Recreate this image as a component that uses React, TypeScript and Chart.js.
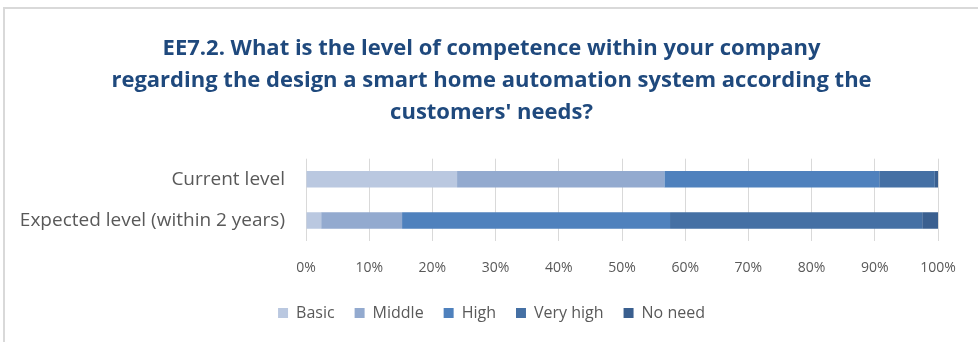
import React, { useEffect, useRef } from "react";
import { Chart, registerables } from "chart.js";

Chart.register(...registerables);

const categories = ["Current level", "Expected level (within 2 years)"];
const seriesNames = ["Basic", "Middle", "High", "Very high", "No need"];
const basic = [23.9, 2.4];
const middle = [32.8, 12.8];
const high = [34.0, 42.4];
const veryHigh = [8.8, 39.9];
const noNeed = [0.5, 2.5];
const colors = ["#BAC8E0", "#93AACF", "#4F81BD", "#4570A4", "#3A5F8F"];
const titleLines = [
  "EE7.2. What is the level of competence within your company",
  "regarding the design a smart home automation system according the",
  "customers' needs?",
];
const FONT = "'Open Sans', Lato, sans-serif";

export default function App() {
  const ref = useRef<HTMLCanvasElement>(null);
  useEffect(() => {
    document.body.style.margin = "0";
    const values = [basic, middle, high, veryHigh, noNeed];
    const chart = new Chart(ref.current!, {
      type: "bar",
      data: {
        labels: categories,
        datasets: seriesNames.map((n, i) => ({
          label: n,
          data: values[i],
          backgroundColor: colors[i],
          borderWidth: 0,
          categoryPercentage: 0.8,
          barPercentage: 0.5,
        })),
      },
      options: {
        indexAxis: "y",
        animation: false,
        responsive: false,
        maintainAspectRatio: false,
        layout: { padding: { left: 15, right: 10, top: 33, bottom: 11 } },
        scales: {
          x: {
            stacked: true,
            min: 0,
            max: 100,
            ticks: {
              stepSize: 10,
              callback: (v: any) => v + "%",
              color: "#595959",
              font: { family: FONT, size: 14 },
              padding: 19,
            },
            grid: { color: "#D9D9D9", drawTicks: false, lineWidth: 1 },
            border: { display: false },
            afterFit: (s: any) => {
              s.height = 44;
            },
          },
          y: {
            stacked: true,
            ticks: {
              color: "#595959",
              font: { family: FONT, size: 19 },
              padding: 13,
            },
            grid: { display: false },
            border: { display: false },
            afterFit: (s: any) => {
              s.width = 291;
            },
          },
          yPad: {
            type: "linear",
            position: "right",
            display: true,
            ticks: { display: false },
            grid: { display: false },
            border: { display: false },
            afterFit: (s: any) => {
              s.width = 30;
            },
          },
        },
        plugins: {
          title: {
            display: true,
            text: titleLines,
            color: "#1F497D",
            font: { family: FONT, size: 22, weight: "bold", lineHeight: 1.45 },
            padding: { top: 0, bottom: 30 },
          },
          legend: {
            position: "bottom",
            labels: {
              boxWidth: 10,
              boxHeight: 10,
              color: "#595959",
              font: { family: FONT, size: 16 },
              padding: 20,
            },
          },
          tooltip: { enabled: false },
        },
      },
    });
    return () => chart.destroy();
  }, []);
  return (
    <div style={{ position: "relative", width: 978, height: 342, background: "#fff" }}>
      <div
        style={{
          position: "absolute",
          left: 3,
          top: 7,
          width: 980,
          height: 340,
          borderTop: "2px solid #D9D9D9",
          borderLeft: "2px solid #D9D9D9",
        }}
      />
      <canvas ref={ref} width={978} height={342} style={{ position: "absolute", left: 0, top: 0 }} />
    </div>
  );
}
